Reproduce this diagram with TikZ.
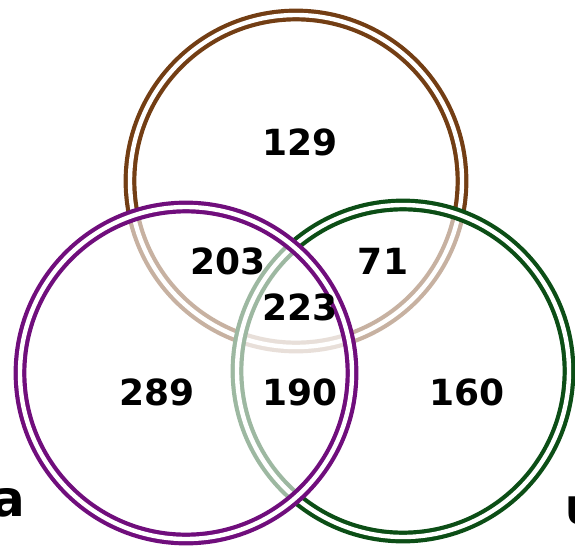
\documentclass[tikz,border=0pt]{standalone}
\usepackage{fontspec}
\setsansfont{DejaVu Sans}
\definecolor{setbrown}{RGB}{115,62,20}
\definecolor{setpurple}{RGB}{112,14,124}
\definecolor{setgreen}{RGB}{12,78,22}

\begin{document}
\begin{tikzpicture}[x=0.5pt,y=-0.5pt,
  every node/.style={font=\sffamily\bfseries\fontsize{18}{20}\selectfont},
  setring/.style={circle,draw=#1,line width=2.1pt,double=white,double distance=2.2pt,
    fill=white,fill opacity=0.6,draw opacity=1,minimum size=166pt,inner sep=0pt}]
\useasboundingbox (0,0) rectangle (575,547);
\clip (0,0) rectangle (575,547);
% the three sets, later ones wash out the lines below them
\node[setring=setbrown] (top) at (296,181) {};
\node[setring=setgreen] (right) at (403,371) {};
\node[setring=setpurple] (left) at (186,373) {};
% counts
\node (n129) at (300,142) {129};
\node (n203) at (228,261) {203};
\node (n71) at (383,261) {71};
\node (n223) at (300,307) {223};
\node (n289) at (157,392) {289};
\node (n190) at (300,392) {190};
\node (n160) at (467,392) {160};
% set names, cut by the edge
\node[font=\sffamily\bfseries\fontsize{25}{28}\selectfont,inner sep=0pt] (lbla) at (8,503) {a};
\node[font=\sffamily\bfseries\fontsize{19}{22}\selectfont,inner sep=0pt,anchor=west] (lblu) at (565,511) {U};
\end{tikzpicture}
\end{document}
